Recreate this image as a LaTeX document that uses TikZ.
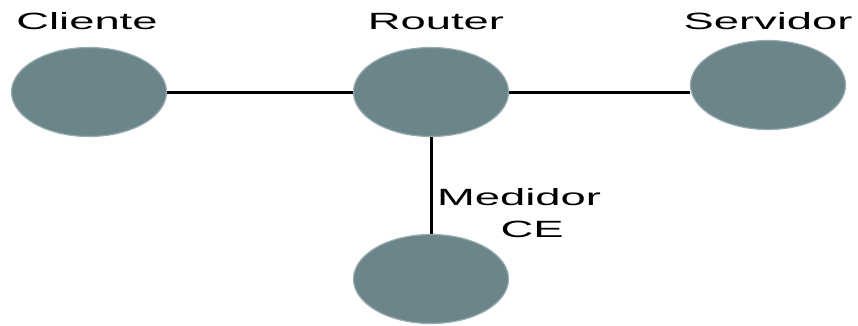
\documentclass[tikz,border=0pt]{standalone}
\usepackage{fontspec}
\setmainfont{Liberation Sans}
\usepackage{graphicx}
\usetikzlibrary{shapes.geometric}
\definecolor{nodefill}{RGB}{108,133,139}
\definecolor{nodeedge}{RGB}{150,172,176}
\tikzset{
  host/.style={ellipse, fill=nodefill, draw=nodeedge, line width=1.2pt, minimum width=155pt, minimum height=89pt, inner sep=0pt},
  link/.style={line width=3pt, black},
  lbl/.style={font=\fontsize{23.5}{32}\selectfont, inner sep=0pt, anchor=base, align=center}
}
\newcommand{\wide}[1]{\scalebox{1.93}[1]{#1}}
\begin{document}
\begin{tikzpicture}[x=1pt,y=-1pt]
\useasboundingbox (0,0) rectangle (858,325);
\node[host] (cli) at (89,92) {};
\node[host] (rou) at (431,92) {};
\node[host] (ser) at (768,85) {};
\node[host] (med) at (431,279) {};
\draw[link] (cli) -- (rou);
\draw[link] (rou.east) -- (ser.west |- rou.east);
\draw[link] (rou) -- (med);
\node[lbl] (lcli) at (87,29) {\wide{Cliente}};
\node[lbl] (lrou) at (436,29) {\wide{Router}};
\node[lbl] (lser) at (768,29) {\wide{Servidor}};
\node[lbl] (lmed) at (519,205) {\wide{Medidor}};
\node[lbl] (lce) at (532,237) {\wide{CE}};
\end{tikzpicture}
\end{document}
